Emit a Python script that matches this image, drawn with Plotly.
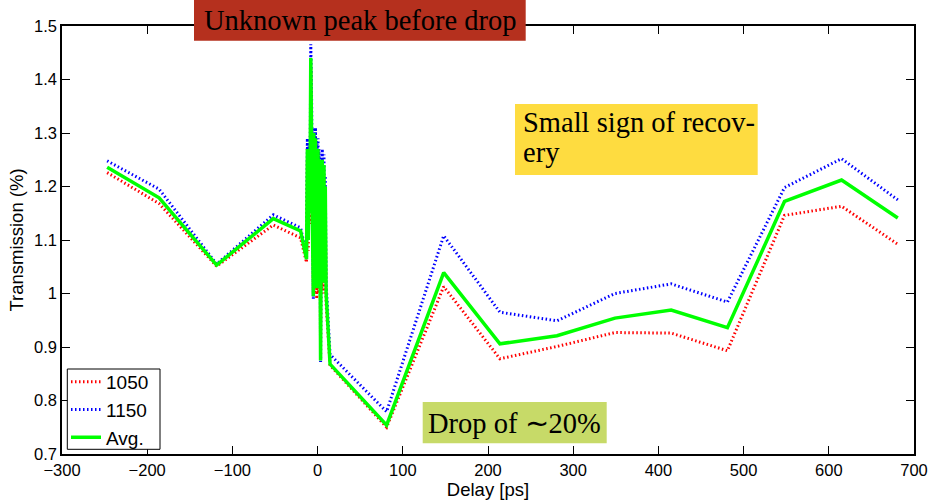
import plotly.graph_objects as go

delay_ps = [-247, -186, -118.5, -52, -20, -13, -12, -11, -10, -9, -8, -7, -6, -5,
            -4.5, -4, -3.5, -3, -2.5, -2, -1.5, -1, -0.5, 0, 0.5, 1, 1.5, 2, 2.5,
            3.5, 4.5, 5, 5.5, 6, 6.5, 7, 7.5, 8, 9, 10,
            14.6, 81, 148, 214, 281, 349, 415, 481, 548, 615, 681]

avg = [1.236, 1.179, 1.053, 1.140, 1.117, 1.064,
       1.27, 1.10, 1.26, 1.15, 1.44, 1.33, 1.12, 0.995,
       1.30, 1.03, 1.28, 1.02, 1.29, 1.04, 1.27, 1.01, 1.26, 1.03, 1.27, 1.02, 1.25, 1.04, 1.24,
       0.875, 1.23, 1.03, 1.25, 1.02, 1.22, 1.04, 1.24, 1.02, 1.20, 1.00,
       0.868, 0.754, 1.039, 0.906, 0.921, 0.954, 0.969, 0.936, 1.172, 1.212, 1.141]

s1150 = [1.248, 1.195, 1.055, 1.147, 1.123, 1.072,
         1.29, 1.12, 1.28, 1.17, 1.466, 1.36, 1.14, 0.99,
         1.31, 1.05, 1.30, 1.04, 1.31, 1.06, 1.29, 1.03, 1.28, 1.05, 1.29, 1.04, 1.27, 1.06, 1.26,
         0.872, 1.25, 1.05, 1.27, 1.04, 1.24, 1.06, 1.26, 1.04, 1.22, 1.02,
         0.886, 0.779, 1.108, 0.965, 0.949, 1.000, 1.018, 0.984, 1.198, 1.252, 1.175]

s1050 = [1.226, 1.168, 1.051, 1.128, 1.104, 1.058,
         1.25, 1.08, 1.24, 1.13, 1.42, 1.30, 1.10, 1.00,
         1.29, 1.01, 1.26, 1.00, 1.27, 1.02, 1.25, 0.99, 1.24, 1.01, 1.25, 1.00, 1.23, 1.02, 1.22,
         0.878, 1.21, 1.01, 1.23, 1.00, 1.20, 1.02, 1.22, 1.00, 1.18, 0.98,
         0.866, 0.750, 1.013, 0.878, 0.901, 0.927, 0.926, 0.893, 1.146, 1.163, 1.092]

series_names = ["1050", "1150", "Avg."]
x_ticks = [-300, -200, -100, 0, 100, 200, 300, 400, 500, 600, 700]
x_ticktext = ["\u2212300", "\u2212200", "\u2212100", "0", "100", "200", "300", "400", "500", "600", "700"]
y_ticks = [0.7, 0.8, 0.9, 1.0, 1.1, 1.2, 1.3, 1.4, 1.5]
y_ticktext = ["0.7", "0.8", "0.9", "1", "1.1", "1.2", "1.3", "1.4", "1.5"]

# layout geometry (pixels)
W, H = 932, 504
L, R, T, B = 62, 914, 26, 454
pw, ph = R - L, B - T


def px(x):
    return (x - L) / pw


def py(y):
    return (B - y) / ph


fig = go.Figure()
fig.add_trace(go.Scatter(x=delay_ps, y=s1050, mode="lines", name=series_names[0],
                         line=dict(color="rgb(255,0,0)", width=3, dash="1.5px,2.5px")))
fig.add_trace(go.Scatter(x=delay_ps, y=s1150, mode="lines", name=series_names[1],
                         line=dict(color="rgb(0,0,255)", width=3, dash="1.5px,2.5px")))
fig.add_trace(go.Scatter(x=delay_ps, y=avg, mode="lines", name=series_names[2],
                         line=dict(color="rgb(0,255,0)", width=3.5)))

serif = "Liberation Serif"
boxes = [
    dict(x0=194, x1=525.7, y0=0, y1=40.7, color="rgb(181,48,30)", line=0),
    dict(x0=515, x1=757.7, y0=104, y1=175, color="rgb(254,220,64)", line=0),
    dict(x0=422.7, x1=606.7, y0=402, y1=443.3, color="rgb(199,218,104)", line=0),
    dict(x0=67.3, x1=160, y0=369, y1=449.3, color="white", line=1),  # legend frame
]
shapes = []
for b in boxes:
    shapes.append(dict(type="rect", xref="paper", yref="paper",
                       x0=px(b["x0"]), x1=px(b["x1"]), y0=py(b["y1"]), y1=py(b["y0"]),
                       fillcolor=b["color"],
                       line=dict(width=b["line"], color="black"), layer="above"))

texts = [
    dict(text="Unknown peak before drop", x=360, y=20, xanchor="center"),
    dict(text="Small sign of recov-", x=521, y=122, xanchor="left"),
    dict(text="ery", x=521, y=152, xanchor="left"),
    dict(text="Drop of \u223c20%", x=514.5, y=423, xanchor="center"),
]
annotations = []
for t in texts:
    annotations.append(dict(text=t["text"], xref="paper", yref="paper",
                            x=px(t["x"]), y=py(t["y"]), xanchor=t["xanchor"], yanchor="middle",
                            showarrow=False, font=dict(family=serif, size=28.5, color="black")))

sans = "Liberation Sans"
axis_common = dict(showline=True, linecolor="black", linewidth=1.5, mirror="allticks",
                   ticks="inside", ticklen=8, tickcolor="black", tickwidth=1,
                   showgrid=False, zeroline=False, automargin=False,
                   tickfont=dict(family=sans, size=16.5, color="black"))

fig.update_layout(
    template="none",
    width=W, height=H,
    margin=dict(l=L, r=W - R, t=T, b=H - B, autoexpand=False),
    paper_bgcolor="white", plot_bgcolor="white",
    xaxis=dict(range=[-300, 700], tickvals=x_ticks, ticktext=x_ticktext,
               title=dict(text="Delay [ps]", font=dict(family=sans, size=18.5, color="black"), standoff=4),
               **axis_common),
    yaxis=dict(range=[0.7, 1.5], tickvals=y_ticks, ticktext=y_ticktext,
               title=dict(text="Transmission (%)", font=dict(family=sans, size=18.5, color="black"), standoff=6),
               **axis_common),
    legend=dict(x=px(66), y=py(457), xanchor="left", yanchor="bottom",
                bgcolor="rgba(0,0,0,0)", borderwidth=0,
                font=dict(family=sans, size=19, color="black"),
                itemwidth=30, tracegroupgap=0),
    shapes=shapes,
    annotations=annotations,
    showlegend=True,
)

fig.write_html("out.html")
